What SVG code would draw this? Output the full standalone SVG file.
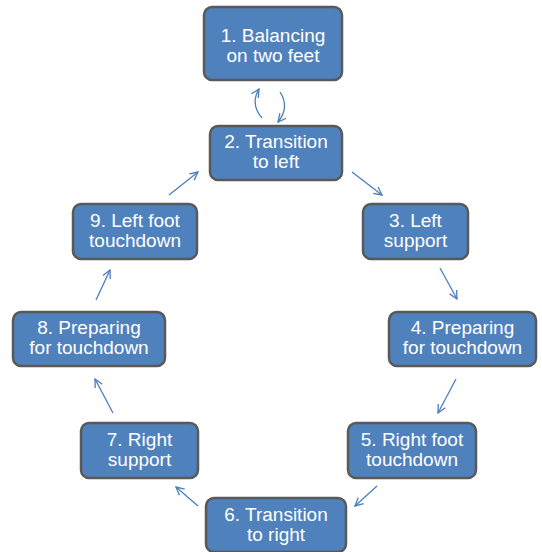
<svg xmlns="http://www.w3.org/2000/svg" width="542" height="552" viewBox="0 0 542 552">
<defs>
<marker id="ah" viewBox="0 0 10 10" refX="9" refY="5" markerWidth="10" markerHeight="10" markerUnits="userSpaceOnUse" orient="auto">
<path d="M1,1 L9,5 L1,9" fill="none" stroke="#4a7ebb" stroke-width="1.3"/>
</marker>
<style>
.box{fill:#4f81bd;stroke:#595959;stroke-width:2.5}
.t{font-family:"Liberation Sans",Arial,sans-serif;font-size:19px;fill:#ffffff;text-anchor:middle}
.c{fill:none;stroke:#4a7ebb;stroke-width:1.3;marker-end:url(#ah)}
</style>
</defs>
<rect width="542" height="552" fill="#ffffff"/>
<g id="n1"><rect class="box" x="204" y="7" width="138" height="73" rx="8"/><text class="t" x="273" y="42">1. Balancing</text><text class="t" x="273" y="62">on two feet</text></g>
<g id="n2"><rect class="box" x="210" y="126" width="132" height="54" rx="8"/><text class="t" x="276" y="148">2. Transition</text><text class="t" x="276" y="168">to left</text></g>
<g id="n3"><rect class="box" x="363" y="204" width="105" height="55" rx="8"/><text class="t" x="415.5" y="227">3. Left</text><text class="t" x="415.5" y="247">support</text></g>
<g id="n4"><rect class="box" x="389" y="312" width="147" height="54" rx="8"/><text class="t" x="462.5" y="334">4. Preparing</text><text class="t" x="462.5" y="354">for touchdown</text></g>
<g id="n5"><rect class="box" x="348" y="423" width="128" height="55" rx="8"/><text class="t" x="412" y="446">5. Right foot</text><text class="t" x="412" y="466">touchdown</text></g>
<g id="n6"><rect class="box" x="206" y="498" width="140" height="54" rx="8"/><text class="t" x="276" y="521">6. Transition</text><text class="t" x="276" y="541">to right</text></g>
<g id="n7"><rect class="box" x="81" y="423" width="117" height="55" rx="8"/><text class="t" x="139.5" y="446">7. Right</text><text class="t" x="139.5" y="466">support</text></g>
<g id="n8"><rect class="box" x="13" y="312" width="152" height="54" rx="8"/><text class="t" x="89" y="334">8. Preparing</text><text class="t" x="89" y="354">for touchdown</text></g>
<g id="n9"><rect class="box" x="73" y="204" width="124" height="55" rx="8"/><text class="t" x="135" y="227">9. Left foot</text><text class="t" x="135" y="247">touchdown</text></g>
<g id="connectors">
<path class="c" d="M262,118 Q250,104 259,89"/>
<path class="c" d="M280,92 Q290,107 278,122"/>
<path class="c" d="M352,172 L382,195"/>
<path class="c" d="M440,268 L457,299"/>
<path class="c" d="M456,379 L438,413"/>
<path class="c" d="M377,486 L355,506"/>
<path class="c" d="M198,506 L176,487"/>
<path class="c" d="M113,413 L95,379"/>
<path class="c" d="M96,300 L110,270"/>
<path class="c" d="M169,195 L198,172"/>
</g>
</svg>
